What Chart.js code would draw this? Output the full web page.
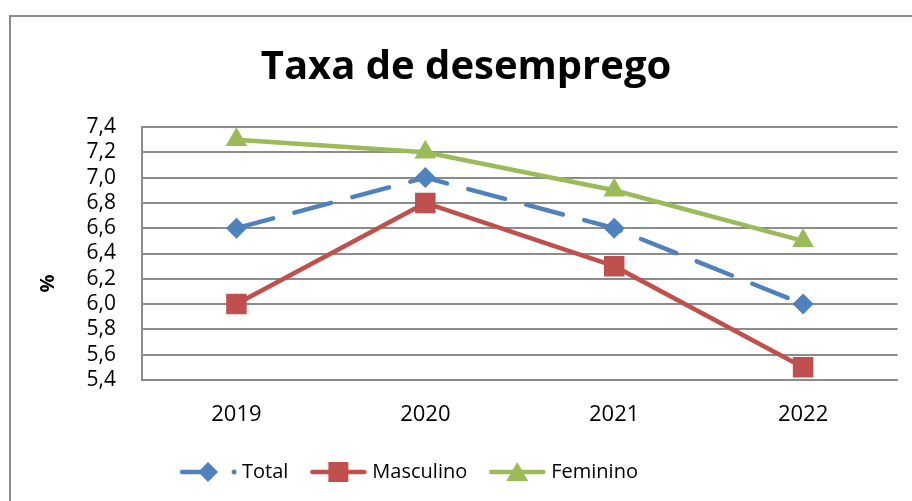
<!DOCTYPE html>
<html>
<head>
<meta charset="utf-8">
<script src="https://cdn.jsdelivr.net/npm/chart.js@4"></script>
<style>
  html, body { margin: 0; padding: 0; background: #fff; }
  #wrap { width: 912px; height: 501px; position: relative; }
</style>
</head>
<body>
<div id="wrap"><canvas id="desempregoChart" width="912" height="501"></canvas></div>
<script>
const FONT = "'Open Sans', sans-serif";

const anos = ["2019", "2020", "2021", "2022"];
const total = [6.6, 7.0, 6.6, 6.0];
const masculino = [6.0, 6.8, 6.3, 5.5];
const feminino = [7.3, 7.2, 6.9, 6.5];

const AZUL = "#4F81BD";
const VERMELHO = "#C0504D";
const VERDE = "#9BBB59";

// legend symbol: a short line with the marker in the middle, like the office charts
function legendSymbol(color, style, dashed) {
    const c = document.createElement("canvas");
    c.width = 58;
    c.height = 26;
    const ctx = c.getContext("2d");
    ctx.strokeStyle = color;
    ctx.fillStyle = color;
    ctx.lineWidth = 4.5;
    ctx.lineCap = "round";
    ctx.beginPath();
    if (dashed) {
        ctx.moveTo(3, 13);
        ctx.lineTo(29, 13);
        ctx.stroke();
        ctx.beginPath();
        ctx.arc(55, 13, 2.5, 0, Math.PI * 2);
        ctx.fill();
    } else {
        ctx.moveTo(3, 13);
        ctx.lineTo(55, 13);
        ctx.stroke();
    }
    ctx.beginPath();
    if (style === "diamond") {
        ctx.moveTo(29, 3); ctx.lineTo(39, 13); ctx.lineTo(29, 23); ctx.lineTo(19, 13);
    } else if (style === "square") {
        ctx.rect(19, 3, 20, 20);
    } else {
        ctx.moveTo(29, 3); ctx.lineTo(40, 22); ctx.lineTo(18, 22);
    }
    ctx.closePath();
    ctx.fill();
    return c;
}

const simbolos = [
    legendSymbol(AZUL, "diamond", true),
    legendSymbol(VERMELHO, "square", false),
    legendSymbol(VERDE, "triangle", false)
];

const molduraPlugin = {
    id: "moldura",
    beforeDraw(chart) {
        const ctx = chart.ctx;
        ctx.save();
        ctx.strokeStyle = "#8c8c8c";
        ctx.lineWidth = 2;
        ctx.strokeRect(10, 16, 920, 500);
        ctx.restore();
    }
};

// the legend row sits a bit left of the plot centre in the original
const legendaPlugin = {
    id: "legendaDesloc",
    afterLayout(chart) {
        const lg = chart.legend;
        if (lg) {
            lg.left -= 55;
            lg.right -= 55;
        }
    }
};

const virgula = v => Number(v).toFixed(1).replace(".", ",");

new Chart("desempregoChart", {
    type: "line",
    data: {
        labels: anos,
        datasets: [
            {
                label: "Total",
                data: total,
                borderColor: AZUL,
                backgroundColor: AZUL,
                borderWidth: 4.5,
                borderDash: [38, 22],
                borderCapStyle: "round",
                pointStyle: "rectRot",
                pointRadius: 10.5,
                pointBorderWidth: 0,
                tension: 0
            },
            {
                label: "Masculino",
                data: masculino,
                borderColor: VERMELHO,
                backgroundColor: VERMELHO,
                borderWidth: 4.5,
                pointStyle: "rect",
                pointRadius: 14.5,
                pointBorderWidth: 0,
                tension: 0
            },
            {
                label: "Feminino",
                data: feminino,
                borderColor: VERDE,
                backgroundColor: VERDE,
                borderWidth: 4.5,
                pointStyle: "triangle",
                pointRadius: 12.5,
                pointBorderWidth: 0,
                tension: 0
            }
        ]
    },
    options: {
        responsive: false,
        animation: false,
        devicePixelRatio: 1,
        layout: {
            padding: { top: 10, right: 14, bottom: 9, left: 34 }
        },
        plugins: {
            title: {
                display: true,
                text: "Taxa de desemprego",
                color: "#000",
                font: { family: FONT, size: 40, weight: "bold" },
                padding: { top: 34, bottom: 35 }
            },
            legend: {
                position: "bottom",
                labels: {
                    usePointStyle: true,
                    pointStyleWidth: 48,
                    color: "#000",
                    font: { family: FONT, size: 20 },
                    padding: 26,
                    generateLabels(chart) {
                        return chart.data.datasets.map((ds, i) => ({
                            text: ds.label,
                            pointStyle: simbolos[i],
                            fillStyle: ds.borderColor,
                            strokeStyle: ds.borderColor,
                            lineWidth: 0,
                            hidden: false,
                            datasetIndex: i
                        }));
                    }
                }
            },
            tooltip: { enabled: false }
        },
        scales: {
            x: {
                offset: true,
                grid: { display: false, drawTicks: false },
                border: { color: "#8c8c8c", width: 2 },
                ticks: {
                    color: "#000",
                    font: { family: FONT, size: 22 },
                    padding: 22
                },
                afterFit(scale) { scale.height = 56; }
            },
            y: {
                min: 5.4,
                max: 7.4,
                ticks: {
                    stepSize: 0.2,
                    autoSkip: false,
                    color: "#000",
                    font: { family: FONT, size: 21 },
                    padding: 26,
                    callback: virgula
                },
                grid: { color: "#8c8c8c", lineWidth: 2, drawTicks: false },
                border: { color: "#8c8c8c", width: 2 },
                title: {
                    display: true,
                    text: "%\u2003\u2003\u2003",
                    color: "#000",
                    font: { family: FONT, size: 20, weight: "bold" },
                    padding: { top: 2, bottom: 0 }
                },
                afterFit(scale) { scale.width = 108; }
            }
        }
    },
    plugins: [molduraPlugin, legendaPlugin]
});
</script>
</body>
</html>
